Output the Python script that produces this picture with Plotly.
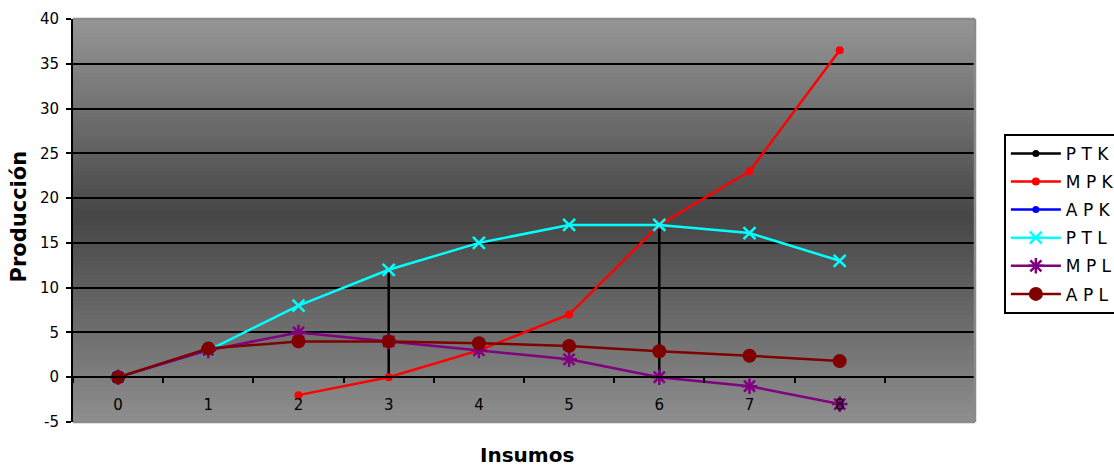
import plotly.graph_objects as go

# Inputs (units of labour) and the production schedules
inputs = [0, 1, 2, 3, 4, 5, 6, 7, 8]
tick_labels = ["0", "1", "2", "3", "4", "5", "6", "7", "8"]

ptk = [None] * 9
mpk = [None, None, -2, 0, 3, 7, 17, 23, 36.5]
apk = [None] * 9
ptl = [0, 3, 8, 12, 15, 17, 17, 16.1, 13]
mpl = [0, 3, 5, 4, 3, 2, 0, -1, -3]
apl = [0, 3.2, 4.0, 4.0, 3.8, 3.5, 2.9, 2.4, 1.8]

# Inputs where the stage boundaries are marked with a drop line from PTL
guide_inputs = [3, 6]

y_ticks = [-5, 0, 5, 10, 15, 20, 25, 30, 35, 40]
y_tick_text = ["-5", "0", "5", "10", "15", "20", "25", "30", "35", "40"]

FONT = "DejaVu Sans, Arial, sans-serif"

fig = go.Figure()

# Drop lines from the total-product curve down to the axis
gx, gy = [], []
for g in guide_inputs:
    gx += [g, g, None]
    gy += [0, ptl[inputs.index(g)], None]
fig.add_trace(go.Scatter(x=gx, y=gy, mode="lines", line=dict(color="black", width=2.5),
                         showlegend=False, hoverinfo="skip"))

series = [
    ("P T K", ptk, "black", dict(symbol="circle", size=7)),
    ("M P K", mpk, "#ff0000", dict(symbol="circle", size=8)),
    ("A P K", apk, "#0000ff", dict(symbol="circle", size=7)),
    ("P T L", ptl, "#00ffff", dict(symbol="x-thin-open", size=12, line=dict(width=2.5, color="#00ffff"))),
    ("M P L", mpl, "#800080", dict(symbol="asterisk-open", size=13, line=dict(width=2.5, color="#800080"))),
    ("A P L", apl, "#800000", dict(symbol="circle", size=14)),
]
for name, vals, col, mk in series:
    has_data = any(v is not None for v in vals)
    fig.add_trace(go.Scatter(
        x=inputs if has_data else [None], y=vals if has_data else [None],
        name=name, legendgroup=name, mode="lines+markers",
        line=dict(color=col, width=2.5), marker=dict(color=col, **mk),
        connectgaps=False,
    ))

# Gradient plot background: light at the top and bottom, dark around the middle.
# Bands overlap the next one so no seams show between them.
shapes = []
y_lo, y_hi, y_dark = -5.0, 40.0, 18.0
n_bands = 90
step = (y_hi - y_lo) / n_bands
for i in range(n_bands):
    y0 = y_lo + i * step
    yc = y0 + step / 2
    if yc >= y_dark:
        t = (yc - y_dark) / (y_hi - y_dark)
        v = 0x46 + t * (0x96 - 0x46)
    else:
        t = (y_dark - yc) / (y_dark - y_lo)
        v = 0x46 + t * (0x8e - 0x46)
    v = int(round(v))
    shapes.append(dict(type="rect", xref="x domain", yref="y", x0=0, x1=1,
                       y0=y0, y1=min(y0 + 2 * step, y_hi), line=dict(width=0),
                       fillcolor=f"rgb({v},{v},{v})", layer="below"))

# Plot-area frame on the top, right and bottom
for x0, y0, x1, y1 in [(0, 1, 1, 1), (1, 0, 1, 1), (0, 0, 1, 0)]:
    shapes.append(dict(type="line", xref="x domain", yref="y domain",
                       x0=x0, y0=y0, x1=x1, y1=y1,
                       line=dict(color="#8a8a8a", width=2.5), layer="above"))

fig.update_layout(
    width=1114, height=469,
    margin=dict(l=73, r=139, t=19, b=47, autoexpand=False),
    paper_bgcolor="white", plot_bgcolor="rgba(0,0,0,0)",
    font=dict(family=FONT, size=15, color="black"),
    shapes=shapes,
    showlegend=True,
    legend=dict(
        x=1.032, y=0.715, xanchor="left", yanchor="top",
        bgcolor="white", bordercolor="black", borderwidth=2,
        font=dict(family=FONT, size=17, color="black"),
        itemwidth=50, tracegroupgap=3, traceorder="grouped",
    ),
    xaxis=dict(
        range=[-0.5, 9.5], tickmode="array", tickvals=inputs, ticktext=tick_labels,
        anchor="free", position=(0 - y_lo) / (y_hi - y_lo),
        showline=True, linecolor="black", linewidth=2,
        ticks="", ticklabelstandoff=14, showgrid=False, zeroline=False,
        minor=dict(tickmode="array", tickvals=[i - 0.5 for i in range(11)],
                   ticks="outside", ticklen=5, tickwidth=2, tickcolor="black",
                   showgrid=False),
        tickfont=dict(family=FONT, size=15, color="black"),
    ),
    yaxis=dict(
        range=[y_lo, y_hi], tickmode="array", tickvals=y_ticks, ticktext=y_tick_text,
        showline=True, linecolor="black", linewidth=2,
        ticks="outside", ticklen=5, tickwidth=2, tickcolor="black",
        ticklabelstandoff=4,
        showgrid=True, gridcolor="black", gridwidth=1.5, zeroline=False,
        tickfont=dict(family=FONT, size=15, color="black"),
    ),
    annotations=[
        dict(text="<b>Producción</b>", textangle=-90, xref="paper", yref="paper",
             x=-0.0588, y=0.51, xanchor="center", yanchor="middle", showarrow=False,
             font=dict(family=FONT, size=21, color="black")),
        dict(text="<b>Insumos</b>", xref="paper", yref="paper",
             x=0.503, y=-0.083, xanchor="center", yanchor="middle", showarrow=False,
             font=dict(family=FONT, size=20, color="black")),
    ],
)

fig.write_html("out.html")
